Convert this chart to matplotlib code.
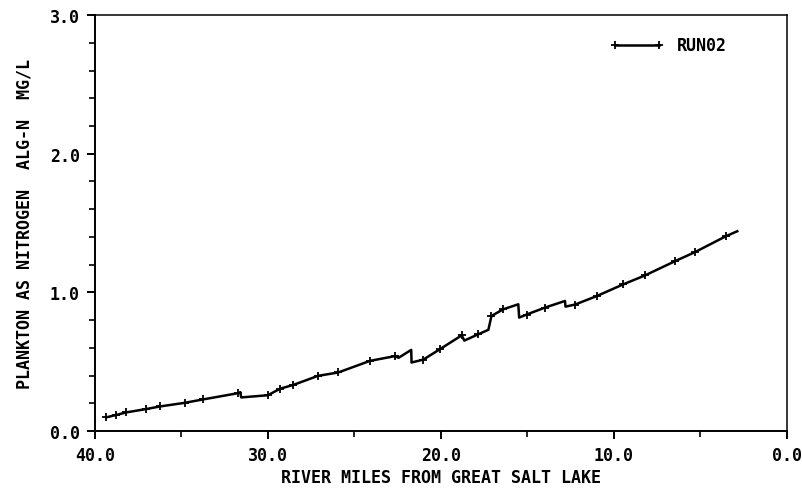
import matplotlib.pyplot as plt
from matplotlib.ticker import MultipleLocator, FormatStrFormatter

plt.rcParams.update({
    'font.family': 'DejaVu Sans Mono',
    'font.weight': 'bold',
    'axes.labelweight': 'bold',
    'font.size': 12,
    'axes.linewidth': 1.4,
    'xtick.major.size': 6,
    'xtick.minor.size': 4,
    'ytick.major.size': 6,
    'ytick.minor.size': 4,
    'xtick.major.width': 1.4,
    'ytick.major.width': 1.4,
    'xtick.minor.width': 1.2,
    'ytick.minor.width': 1.2,
})

# model output along the river (miles upstream of the lake, algal nitrogen mg/L)
river_mile = [39.36, 38.79, 38.20, 37.05, 36.24, 34.82, 33.74, 31.72, 31.60, 31.55,
              30.00, 29.30, 28.54, 27.10, 25.94, 24.10, 22.66, 22.45, 21.72, 21.70,
              21.02, 20.06, 18.80, 18.65, 17.84, 17.26, 17.08, 16.40, 15.53, 15.48,
              15.05, 13.99, 12.83, 12.80, 12.25, 11.00, 9.46, 8.21, 6.47, 5.32,
              3.53, 2.87]
alg_n = [0.098, 0.115, 0.134, 0.158, 0.177, 0.203, 0.228, 0.273, 0.280, 0.242,
         0.258, 0.305, 0.332, 0.398, 0.422, 0.506, 0.540, 0.528, 0.585, 0.494,
         0.515, 0.590, 0.690, 0.652, 0.698, 0.730, 0.830, 0.878, 0.914, 0.818,
         0.840, 0.890, 0.938, 0.897, 0.912, 0.973, 1.058, 1.122, 1.225, 1.290,
         1.405, 1.441]
# vertices that carry a plotted symbol
marked = [0, 1, 2, 3, 4, 5, 6, 7, 10, 11, 12, 13, 14, 15, 16, 20, 21, 22, 24,
          26, 27, 30, 31, 34, 35, 36, 37, 38, 39, 40]

fig = plt.figure(figsize=(8.03, 4.89), dpi=100)
ax = fig.add_axes([0.1183, 0.1166, 0.8617, 0.8504])

ax.plot(river_mile, alg_n, color='black', linewidth=1.8,
        marker='+', markersize=6, markeredgewidth=1.3,
        markevery=marked, label='RUN02')

ax.set_xlim(40, 0)
ax.set_ylim(0, 3.0)
ax.xaxis.set_major_locator(MultipleLocator(10))
ax.xaxis.set_minor_locator(MultipleLocator(5))
ax.yaxis.set_major_locator(MultipleLocator(1.0))
ax.yaxis.set_minor_locator(MultipleLocator(0.2))
ax.xaxis.set_major_formatter(FormatStrFormatter('%.1f'))
ax.yaxis.set_major_formatter(FormatStrFormatter('%.1f'))
ax.tick_params(which='both', direction='out', top=False, right=False, pad=5)

for side in ['top', 'right']:
    ax.spines[side].set_linewidth(1.1)

ax.set_xlabel('RIVER MILES FROM GREAT SALT LAKE', labelpad=3)
ax.set_ylabel('PLANKTON AS NITROGEN  ALG-N  MG/L', labelpad=12)

ax.legend(loc='upper right', frameon=False, numpoints=2, handlelength=3.2,
          bbox_to_anchor=(0.935, 0.985))

fig.savefig('out.png', dpi=100)
